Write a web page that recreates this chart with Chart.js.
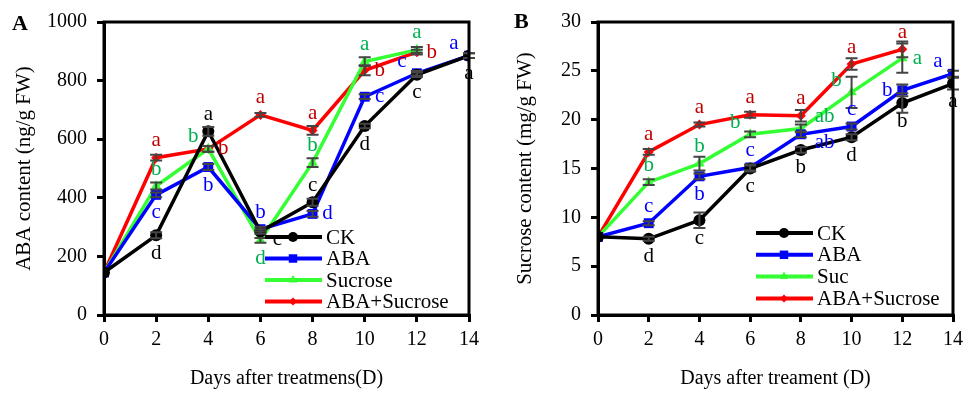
<!DOCTYPE html>
<html><head><meta charset="utf-8">
<script src="https://cdn.jsdelivr.net/npm/chart.js@4.4.1/dist/chart.umd.min.js"></script>
<style>
html,body{margin:0;padding:0;background:#fff;}
#wrap{position:relative;width:969px;height:393px;overflow:hidden;}
canvas{position:absolute;top:0;}
#cA{left:0;}
#cB{left:485px;}
</style></head>
<body><div id="wrap"><canvas id="cA" width="485" height="393"></canvas><canvas id="cB" width="484" height="393"></canvas></div>
<script>
// ---------- data ----------
const days = [0, 2, 4, 6, 8, 10, 12, 14];
const xTicks = [0, 2, 4, 6, 8, 10, 12, 14];
const yTicksA = [0, 200, 400, 600, 800, 1000];
const yTicksB = [0, 5, 10, 15, 20, 25, 30];

// Panel A: ABA content (ng/g FW)
const abaCK      = [145, 272, 627, 285, 385, 645, 820, 885];
const abaABA     = [145, 410, 505, 293, 345, 745, 825, 885];
const abaSuc     = [145, 440, 567, 255, 520, 865, 905, null];
const abaABASuc  = [145, 537, 567, 683, 630, 835, 897, null];
const abaErrCK     = [0, 10, 15, 8, 12, 8, 8, 8];
const abaErrABA    = [0, 8, 10, 8, 10, 8, 8, 8];
const abaErrSuc    = [0, 12, 10, 8, 15, 15, 10, 0];
const abaErrABASuc = [0, 10, 10, 6, 15, 17, 8, 0];
const abaLetCK     = ['', 'd', 'a', 'c', 'c', 'd', 'c', 'a'];
const abaLetABA    = ['', 'c', 'b', 'b', 'd', 'c', 'c', 'a'];
const abaLetSuc    = ['', 'b', 'b', 'd', 'b', 'a', 'a', ''];
const abaLetABASuc = ['', 'a', 'b', 'a', 'a', 'b', 'b', ''];

// Panel B: Sucrose content (mg/g FW)
const sucCK      = [8.0, 7.8, 9.7, 15.0, 16.9, 18.2, 21.7, 23.7];
const sucABA     = [8.0, 9.4, 14.2, 15.1, 18.5, 19.3, 23.0, 24.7];
const sucSuc     = [8.0, 13.6, 15.5, 18.5, 19.1, 22.8, 26.3, null];
const sucABASuc  = [8.0, 16.7, 19.5, 20.5, 20.4, 25.7, 27.2, null];
const sucErrCK     = [0, 0.2, 0.8, 0.3, 0.3, 0.3, 1.0, 0.6];
const sucErrABA    = [0, 0.2, 0.3, 0.3, 0.3, 0.3, 0.6, 0.3];
const sucErrSuc    = [0, 0.3, 0.7, 0.3, 0.4, 1.6, 1.5, 0];
const sucErrABASuc = [0, 0.3, 0.2, 0.3, 0.6, 0.6, 0.8, 0];
const sucLetCK     = ['', 'd', 'c', 'c', 'b', 'd', 'b', 'a'];
const sucLetABA    = ['', 'c', 'b', 'c', 'ab', 'c', 'b', 'a'];
const sucLetSuc    = ['', 'b', 'b', 'b', 'ab', 'b', 'a', ''];
const sucLetABASuc = ['', 'a', 'a', 'a', 'a', 'a', 'a', ''];

// ---------- label placement (layout only) ----------
// u = above, d = below, r = right, l = left, ul = upper-left, ur = upper-right, dr = lower-right
const posA = {
  CK:  ['', 'd', 'u', 'dr', 'u', 'd', 'd', 'd'],
  ABA: ['', 'd', 'd', 'u', 'r', 'r', 'ul', 'ul'],
  Suc: ['', 'u', 'ul', 'd', 'u', 'u', 'u', ''],
  AS:  ['', 'u', 'r', 'u', 'u', 'r', 'r', '']
};
const posB = {
  CK:  ['', 'd', 'd', 'd', 'd', 'd', 'd', 'd'],
  ABA: ['', 'u', 'd', 'u', 'dr', 'u', 'l', 'ul'],
  Suc: ['', 'u', 'u', 'ul', 'ur', 'ul', 'r', ''],
  AS:  ['', 'u', 'u', 'u', 'u', 'u', 'u', '']
};

const FONT = "'Liberation Serif', 'Times New Roman', serif";
const lineCols = ['#000000', '#0000ff', '#33ff33', '#ff0000'];
const letCols = ['#000000', '#0000ff', '#00b050', '#c00000'];
const pStyles = ['circle', 'rect', 'triangle', 'rectRot'];
const pRadius = [6, 7, 6, 5];

function mkDatasets(names, vals, errs, lets, pos) {
  return vals.map((v, i) => ({
    label: names[i],
    data: days.map((d, j) => ({x: d, y: v[j]})),
    borderColor: lineCols[i], backgroundColor: lineCols[i],
    borderWidth: 3.5, pointStyle: pStyles[i], pointRadius: pRadius[i],
    pointBorderWidth: 0, pointHoverRadius: pRadius[i],
    spanGaps: false, tension: 0,
    errs: errs[i], lets: lets[i], pos: pos[i], letColor: letCols[i]
  }));
}

const boxPlugin = {
  id: 'boxPlugin',
  afterDraw(chart) {
    const {ctx, chartArea: a} = chart;
    ctx.save();
    ctx.strokeStyle = '#000'; ctx.lineWidth = 3;
    ctx.strokeRect(a.left, a.top, a.right - a.left, a.bottom - a.top);
    ctx.restore();
  }
};

const errPlugin = {
  id: 'errPlugin',
  afterDatasetsDraw(chart) {
    const {ctx} = chart; const ys = chart.scales.y, xs = chart.scales.x;
    ctx.save(); ctx.strokeStyle = '#444'; ctx.lineWidth = 2;
    chart.data.datasets.forEach(ds => {
      ds.data.forEach((p, j) => {
        const e = ds.errs[j]; if (p.y == null || !e) return;
        const x = xs.getPixelForValue(p.x);
        const y1 = ys.getPixelForValue(p.y - e), y2 = ys.getPixelForValue(p.y + e);
        ctx.beginPath(); ctx.moveTo(x, y1); ctx.lineTo(x, y2);
        ctx.moveTo(x - 6, y1); ctx.lineTo(x + 6, y1);
        ctx.moveTo(x - 6, y2); ctx.lineTo(x + 6, y2);
        ctx.stroke();
      });
    });
    ctx.restore();
  }
};

const letPlugin = {
  id: 'letPlugin',
  afterDatasetsDraw(chart) {
    const {ctx} = chart; const ys = chart.scales.y, xs = chart.scales.x;
    ctx.save(); ctx.font = '21px ' + FONT; ctx.textAlign = 'center'; ctx.textBaseline = 'middle';
    const off = {u: [0, -17], d: [0, 18], r: [15, 0], l: [-15, 0], ul: [-15, -12], ur: [17, -12], dr: [17, 8]};
    chart.data.datasets.forEach(ds => {
      ds.data.forEach((p, j) => {
        const t = ds.lets[j]; if (!t || p.y == null) return;
        const o = off[ds.pos[j]] || [0, -16];
        const x = xs.getPixelForValue(p.x) + o[0] * (t.length > 1 ? 1.4 : 1);
        const y = ys.getPixelForValue(p.y) + o[1];
        ctx.fillStyle = ds.letColor; ctx.fillText(t, x, y);
      });
    });
    ctx.restore();
  }
};

const legPlugin = {
  id: 'legPlugin',
  afterDraw(chart, args, opts) {
    const {ctx, chartArea: a} = chart;
    ctx.save(); ctx.font = '21px ' + FONT; ctx.textBaseline = 'middle'; ctx.textAlign = 'left';
    chart.data.datasets.forEach((ds, i) => {
      const x0 = a.right + opts.dx, y = a.bottom + opts.dy + i * opts.gap;
      ctx.strokeStyle = ds.borderColor; ctx.lineWidth = 4;
      ctx.beginPath(); ctx.moveTo(x0, y); ctx.lineTo(x0 + 57, y); ctx.stroke();
      ctx.fillStyle = ds.borderColor;
      Chart.helpers.drawPoint(ctx, {pointStyle: ds.pointStyle, radius: ds.pointRadius - 1, borderWidth: 0}, x0 + 28, y);
      ctx.fillStyle = '#000'; ctx.fillText(ds.label, x0 + 61, y + 1);
    });
    ctx.restore();
  }
};

const panelPlugin = {
  id: 'panelPlugin',
  afterDraw(chart, args, opts) {
    const {ctx} = chart;
    ctx.save(); ctx.font = 'bold 22px ' + FONT; ctx.fillStyle = '#000'; ctx.textBaseline = 'middle';
    ctx.fillText(opts.text, opts.x, opts.y);
    ctx.restore();
  }
};

function mkChart(id, datasets, yMax, yStep, yTitle, xTitle, yWidth, padRight, titleLeftPad, legOpts, panel) {
  return new Chart(document.getElementById(id), {
    type: 'line',
    data: {datasets},
    options: {
      responsive: false, animation: false, devicePixelRatio: 1,
      layout: {padding: {top: 15, right: padRight, bottom: 0, left: 0}},
      plugins: {legend: {display: false}, tooltip: {enabled: false},
        legPlugin: legOpts, panelPlugin: panel},
      scales: {
        x: {type: 'linear', min: 0, max: 14,
          ticks: {stepSize: 2, color: '#000', font: {family: FONT, size: 20}, padding: 6,
            callback: v => String(v)},
          grid: {drawOnChartArea: false, tickLength: 7, color: '#000', lineWidth: 3},
          border: {color: '#000', width: 3},
          title: {display: true, text: xTitle, color: '#000', font: {family: FONT, size: 20}, padding: {top: 0, bottom: 2}},
          afterFit(s) { s.height = 78; }
        },
        y: {type: 'linear', min: 0, max: yMax,
          ticks: {stepSize: yStep, color: '#000', font: {family: FONT, size: 20}, padding: 10,
            callback: v => String(v)},
          grid: {drawOnChartArea: false, tickLength: 7, color: '#000', lineWidth: 3},
          border: {color: '#000', width: 3},
          title: {display: true, text: yTitle, color: '#000', font: {family: FONT, size: 21}, padding: {top: titleLeftPad, bottom: 0}},
          afterFit(s) { s.width = yWidth; }
        }
      }
    },
    plugins: [boxPlugin, errPlugin, letPlugin, legPlugin, panelPlugin]
  });
}

const namesA = ['CK', 'ABA', 'Sucrose', 'ABA+Sucrose'];
const namesB = ['CK', 'ABA', 'Suc', 'ABA+Sucrose'];

mkChart('cA',
  mkDatasets(namesA, [abaCK, abaABA, abaSuc, abaABASuc], [abaErrCK, abaErrABA, abaErrSuc, abaErrABASuc],
    [abaLetCK, abaLetABA, abaLetSuc, abaLetABASuc], [posA.CK, posA.ABA, posA.Suc, posA.AS]),
  1000, 200, 'ABA content (ng/g FW)', 'Days after treatmens(D)', 104, 16, 12,
  {dx: -204, dy: -78, gap: 21.5}, {text: 'A', x: 12, y: 24});

mkChart('cB',
  mkDatasets(namesB, [sucCK, sucABA, sucSuc, sucABASuc], [sucErrCK, sucErrABA, sucErrSuc, sucErrABASuc],
    [sucLetCK, sucLetABA, sucLetSuc, sucLetABASuc], [posB.CK, posB.ABA, posB.Suc, posB.AS]),
  30, 5, 'Sucrose content (mg/g FW)', 'Days after treament (D)', 113, 9, 28,
  {dx: -197, dy: -82, gap: 21.8}, {text: 'B', x: 29, y: 22});
</script></body></html>
